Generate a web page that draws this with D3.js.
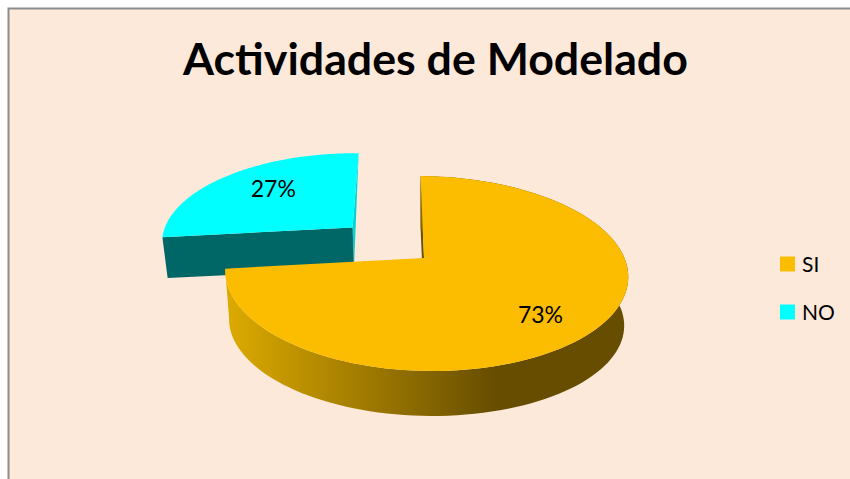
<!DOCTYPE html>
<html>
<head>
<meta charset="utf-8">
<script src="https://cdn.jsdelivr.net/npm/d3@7"></script>
<style>
  html, body { margin: 0; padding: 0; background: #fff; }
  svg { display: block; }
  text { font-family: Lato, "Open Sans", sans-serif; fill: #000; }
</style>
</head>
<body>
<svg id="chart" width="850" height="479"></svg>
<script>
const title = "Actividades de Modelado";
const categories = ["SI", "NO"];
const values = [73, 27];

const width = 850, height = 479;

var svg = d3.select("#chart");

// chart area, the frame only shows on the top and left
svg.append("rect").attr("x", 8).attr("y", 8).attr("width", width).attr("height", height)
  .attr("fill", "#fde9d9");
svg.append("path").attr("d", "M8.5," + height + "V8.5H" + width)
  .attr("fill", "none").attr("stroke", "#8c8c8c").attr("stroke-width", 2);

svg.append("text").attr("x", 435.5).attr("y", 75)
  .attr("text-anchor", "middle")
  .style("font-size", "44.7px").style("font-weight", 700)
  .text(title);

var defs = svg.append("defs");
var wallGrad = defs.append("linearGradient").attr("id", "wall")
  .attr("gradientUnits", "userSpaceOnUse")
  .attr("x1", 228).attr("x2", 497).attr("y1", 0).attr("y2", 0);
wallGrad.append("stop").attr("offset", 0).attr("stop-color", "#dcaa00");
wallGrad.append("stop").attr("offset", 1).attr("stop-color", "#664d00");

var color = d3.scaleOrdinal().domain(categories).range(["#fcbd00", "#00ffff"]);

// tilted disc: front edge comes out bigger than the back edge
const persp = 0.159, skew = 4, tilt = 1.5;
var xScale = d3.scaleLinear().domain([-1, 0, 1]).range([227, 424, 625]);
var yScale = d3.scaleLinear().domain([-1, 1]).range([258 - 95, 258 + 95]);
const explode = [0, 0.5];   // NO slice is pulled out
const depth = [49.5, 40];

function project(theta, r, ex) {
  var u = r * Math.sin(theta) + ex * Math.sin(explodeAngle);
  var v = -r * Math.cos(theta) - ex * Math.cos(explodeAngle);
  var s = 1 / (1 - persp * v);
  return [xScale(u * s) + skew * v * s, yScale(v * s) + tilt * u * s];
}

// the lower rim sits a little inside of the upper one
function drop(p, d) {
  return [xScale(0) + (p[0] - xScale(0)) * 0.98, p[1] + d - (p[1] - yScale(0)) * 0.04];
}

var pie = d3.pie().sort(null).value(function(d) { return d; });
var slices = pie(values);
var explodeAngle = (slices[1].startAngle + slices[1].endAngle) / 2;
var line = d3.line();

function rim(d, ex) {
  var n = 120;
  return d3.range(n + 1).map(function(i) {
    return project(d.startAngle + (d.endAngle - d.startAngle) * i / n, 1, ex);
  });
}

function drawWalls(i) {
  var d = slices[i], ex = explode[i], dp = depth[i];
  var apex = project(0, 0, ex);
  var first = project(d.startAngle, 1, ex);
  var last = project(d.endAngle, 1, ex);
  if (i == 0) {
    // sliver on the cut at 12 o'clock
    svg.append("path")
      .attr("d", line([first, apex, drop(apex, dp), drop(first, dp)]) + "Z")
      .attr("fill", "#6a5000");
    var top = rim(d, ex);
    var bottom = top.map(function(p) { return drop(p, dp); }).reverse();
    svg.append("path").attr("d", line(top.concat(bottom)) + "Z").attr("fill", "url(#wall)");
  } else {
    svg.append("path")
      .attr("d", line([last, apex, drop(apex, dp)]) + "Z")
      .attr("fill", "#00d4d4");
    svg.append("path")
      .attr("d", line([first, apex, drop(apex, dp), drop(first, dp)]) + "Z")
      .attr("fill", "#006666");
  }
}

function drawTop(i) {
  var d = slices[i], ex = explode[i];
  var pts = rim(d, ex);
  pts.push(project(0, 0, ex));
  svg.append("path").attr("d", line(pts) + "Z").attr("fill", color(categories[i]));
}

// back slice first so SI overlaps it
drawWalls(1);
drawTop(1);
drawWalls(0);
drawTop(0);

var pctRadius = [0.72, 0.62];
var pctNudge = [[-3, 7], [0, -5]];
slices.forEach(function(d, i) {
  var mid = (d.startAngle + d.endAngle) / 2;
  var p = project(mid, pctRadius[i], explode[i]);
  svg.append("text").attr("x", p[0] + pctNudge[i][0]).attr("y", p[1] + pctNudge[i][1])
    .attr("text-anchor", "middle").attr("dy", "0.36em")
    .style("font-size", "23px")
    .text(d.value + "%");
});

var legendY = d3.scalePoint().domain(categories).range([264, 312]);
categories.forEach(function(c) {
  svg.append("rect").attr("x", 780).attr("y", legendY(c) - 7.5)
    .attr("width", 15).attr("height", 15).attr("fill", color(c));
  svg.append("text").attr("x", 802).attr("y", legendY(c)).attr("dy", "0.36em")
    .style("font-size", "21px")
    .text(c);
});
</script>
</body>
</html>
